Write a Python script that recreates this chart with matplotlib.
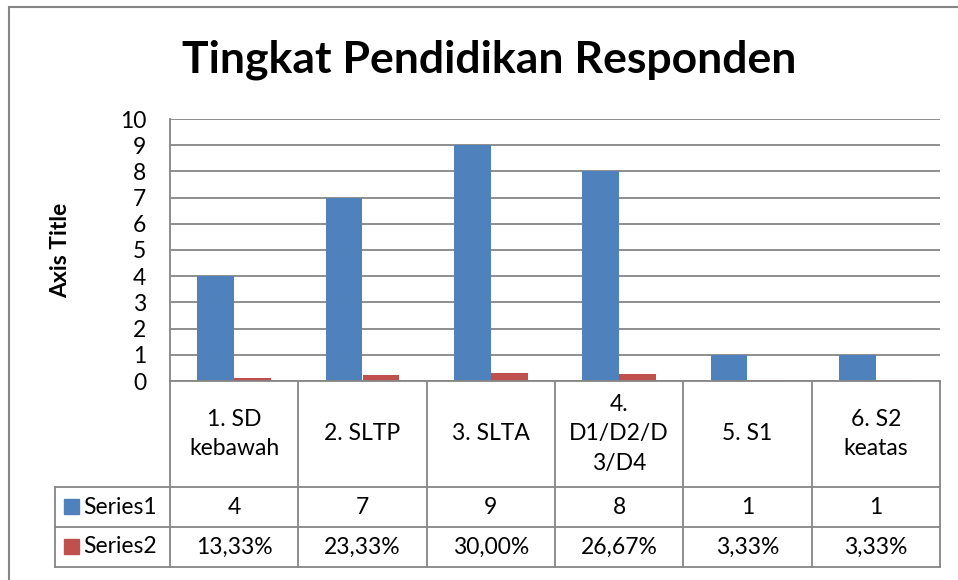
import numpy as np
import matplotlib.pyplot as plt
from matplotlib.patches import Rectangle

plt.rcParams["font.family"] = ["Lato", "DejaVu Sans"]

# data
categories = ["1. SD\nkebawah", "2. SLTP", "3. SLTA", "4.\nD1/D2/D\n3/D4", "5. S1", "6. S2\nkeatas"]
series1 = [4, 7, 9, 8, 1, 1]
series2 = [0.1333, 0.2333, 0.3000, 0.2667, 0.0333, 0.0333]
series_names = ["Series1", "Series2"]
yticks = list(range(0, 11))

BLUE = "#4F81BD"
RED = "#C0504D"
GRID = "#868686"
FS = 16.5

W, H = 958, 580
fig = plt.figure(figsize=(W / 100, H / 100), dpi=100)


def fx(px):
    return px / W


def fy(py):
    return 1 - py / H


# outer chart border (cut off at right and bottom like the screenshot)
fig.patches.append(Rectangle((fx(9), -0.1), 1.2, fy(7) + 0.1, transform=fig.transFigure,
                             fill=False, ec=GRID, lw=1.5))

L, R, T, B = 170, 940, 119, 381
ax = fig.add_axes([fx(L), fy(B), fx(R - L), fy(T) - fy(B)])
x = np.arange(len(categories))
bw = 0.288
ax.bar(x - bw / 2, series1, bw, color=BLUE, zorder=3)
ax.bar(x + bw / 2, series2, bw, color=RED, zorder=3)
ax.set_xlim(-0.5, len(categories) - 0.5)
ax.set_ylim(0, 10)
ax.set_yticks(yticks)
ax.yaxis.grid(True, color=GRID, lw=1.3, zorder=0)
ax.set_xticks([])
ax.tick_params(axis="y", length=0, pad=17, labelsize=FS)
for side in ["top", "right", "bottom"]:
    ax.spines[side].set_visible(False)
ax.spines["left"].set_color(GRID)
ax.spines["left"].set_linewidth(1.3)

fig.text(fx(489), fy(60), "Tingkat Pendidikan Responden", ha="center", va="center",
         fontsize=32, fontweight="bold")
fig.text(fx(61), fy(250), "Axis Title", ha="center", va="center", rotation=90,
         fontsize=16.5, fontweight="bold")

# data table under the axis
tax = fig.add_axes([fx(L), fy(567), fx(R - L), fy(B) - fy(567)])
tax.set_xlim(-0.5, len(categories) - 0.5)
tax.set_ylim(567, B)
tax.axis("off")
colw = (R - L) / len(categories)
left_x = -0.5 - (L - 55) / colw
rows = [B, 487, 527, 567]
lk = dict(color=GRID, lw=1.3, clip_on=False)
for i in range(len(categories) + 1):
    tax.plot([i - 0.5, i - 0.5], [rows[0], rows[-1]], **lk)
tax.plot([left_x, left_x], [rows[1], rows[-1]], **lk)
tax.plot([-0.5, len(categories) - 0.5], [rows[0], rows[0]], **lk)
for r in rows[1:]:
    tax.plot([left_x, len(categories) - 0.5], [r, r], **lk)

for i, c in enumerate(categories):
    tax.text(i, (rows[0] + rows[1]) / 2, c, ha="center", va="center", fontsize=FS,
             linespacing=1.5)
    tax.text(i, (rows[1] + rows[2]) / 2, str(series1[i]), ha="center", va="center", fontsize=FS)
    lab = f"{series2[i] * 100:.2f}%".replace(".", ",")
    tax.text(i, (rows[2] + rows[3]) / 2, lab, ha="center", va="center", fontsize=FS)

sq = 15 / colw
for k, (name, col) in enumerate(zip(series_names, [BLUE, RED])):
    yc = (rows[k + 1] + rows[k + 2]) / 2
    tax.add_patch(Rectangle((left_x + 9 / colw, yc - 7.5), sq, 15, color=col, clip_on=False))
    tax.text(left_x + 28 / colw, yc, name, ha="left", va="center", fontsize=FS)

fig.savefig("out.png", dpi=100)
